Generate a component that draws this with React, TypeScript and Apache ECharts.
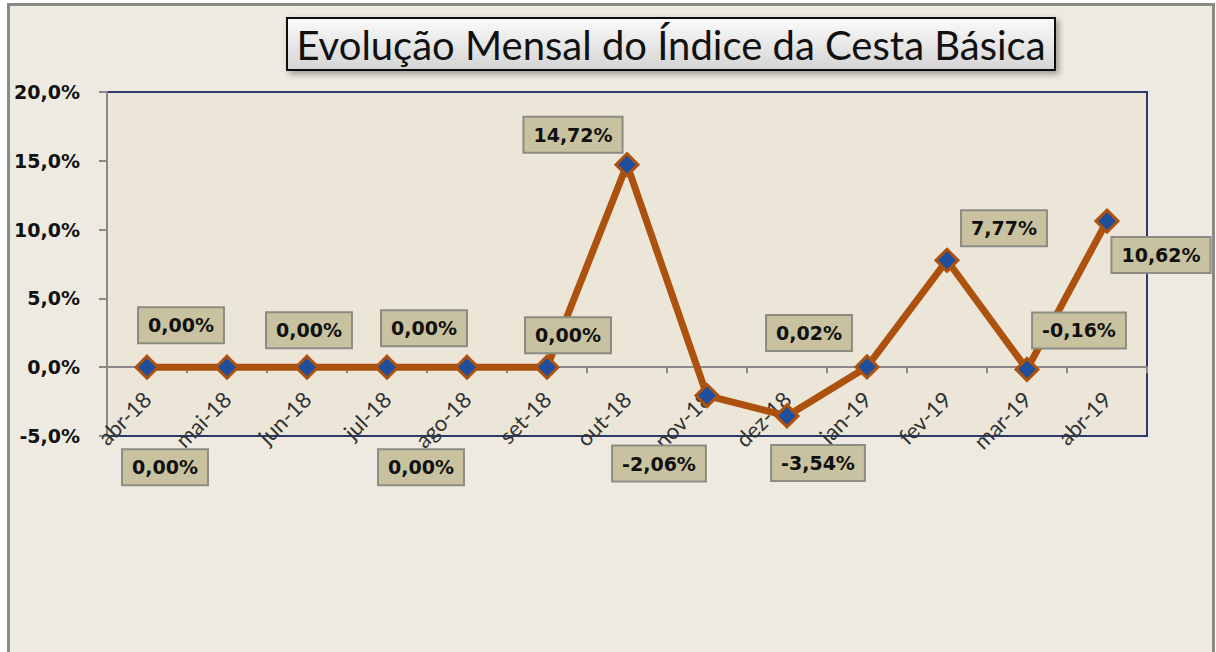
import React, { useEffect, useRef } from "react";
import * as echarts from "echarts";

const categories = [
  "abr-18", "mai-18", "jun-18", "jul-18", "ago-18", "set-18", "out-18",
  "nov-18", "dez-18", "jan-19", "fev-19", "mar-19", "abr-19",
];
const values = [0, 0, 0, 0, 0, 0, 14.72, -2.06, -3.54, 0.02, 7.77, -0.16, 10.62];
const yTicks = [-5, 0, 5, 10, 15, 20];
const titleText = "Evolução Mensal do Índice da Cesta Básica";

export default function App() {
  const ref = useRef<HTMLDivElement>(null);
  useEffect(() => {
    if (!ref.current) return;
    const chart = echarts.init(ref.current, undefined, { renderer: "svg" });
    // manual label placement (dx, dy from the point), as in the original chart
    const labelOffsets: number[][] = [
      [18, 100], [-46, -42], [2, -37], [37, -39], [-46, 100], [21, -32],
      [-54, -30], [-48, 68], [31, 47], [-58, -34], [57, -32], [52, -39], [54, 34],
    ];
    const lineColor = "#AD520E";
    const plotTop = 92;
    const plotHeight = 344;
    const yMin = yTicks[0];
    const yMax = yTicks[yTicks.length - 1];
    // move the category axis (line, ticks and labels) up to the zero value
    const zeroOffset = -plotHeight * (0 - yMin) / (yMax - yMin);
    chart.setOption({
      animation: false,
      backgroundColor: "#ffffff",
      graphic: [
        {
          type: "rect",
          z: -10,
          silent: true,
          shape: { x: 8.5, y: 4.5, width: 1205, height: 660 },
          style: { fill: "#EEEAE1", stroke: "#8A8A86", lineWidth: 3 },
        },
        {
          type: "group",
          z: 100,
          children: [
            {
              type: "rect",
              shape: { x: 287, y: 18, width: 768, height: 52 },
              style: {
                fill: new echarts.graphic.LinearGradient(0, 0, 0, 1, [
                  { offset: 0, color: "#FBFBFB" },
                  { offset: 1, color: "#D4D4D4" },
                ]),
                stroke: "#111111",
                lineWidth: 2,
                shadowBlur: 6,
                shadowOffsetX: 3,
                shadowOffsetY: 3,
                shadowColor: "rgba(0,0,0,0.35)",
              },
            },
            {
              type: "text",
              x: 671,
              y: 45,
              style: {
                text: titleText,
                font: "40px Lato",
                fill: "#111111",
                align: "center",
                verticalAlign: "middle",
              },
            },
          ],
        },
      ],
      grid: {
        left: 107,
        top: plotTop,
        width: 1040,
        height: plotHeight,
        show: true,
        backgroundColor: "#ECE6D8",
        borderColor: "#2B3A67",
        borderWidth: 2,
      },
      xAxis: {
        type: "category",
        data: categories,
        boundaryGap: true,
        offset: zeroOffset,
        axisLine: { onZero: false, lineStyle: { color: "#8A8A8A", width: 2 } },
        axisTick: { show: true, length: 6, lineStyle: { color: "#8A8A8A", width: 2 } },
        axisLabel: {
          rotate: 45,
          margin: 28,
          fontFamily: "Lato",
          fontSize: 22,
          color: "#333333",
        },
        splitLine: { show: false },
      },
      yAxis: {
        type: "value",
        min: yMin,
        max: yMax,
        interval: 5,
        axisLine: { show: true, lineStyle: { color: "#8A8A8A", width: 2 } },
        axisTick: { show: true, length: 8, lineStyle: { color: "#8A8A8A", width: 2 } },
        axisLabel: {
          margin: 27,
          fontFamily: "DejaVu Sans",
          fontWeight: "bold",
          fontSize: 19,
          color: "#111111",
          formatter: (v: number) => v.toFixed(1).replace(".", ",") + "%",
        },
        splitLine: { show: false },
      },
      series: [
        {
          type: "line",
          data: values.map((v, i) => ({
            value: v,
            label: { offset: labelOffsets[i] },
          })),
          lineStyle: { color: lineColor, width: 7 },
          symbol: "diamond",
          symbolSize: 22,
          itemStyle: { color: "#1F4E9C", borderColor: lineColor, borderWidth: 3 },
          z: 5,
          label: {
            show: true,
            position: "inside",
            formatter: (p: any) => p.value.toFixed(2).replace(".", ",") + "%",
            fontFamily: "DejaVu Sans",
            fontWeight: "bold",
            fontSize: 19,
            color: "#111111",
            backgroundColor: "#C8C2A0",
            borderColor: "#8C8C84",
            borderWidth: 2,
            padding: [8, 9, 7, 9],
          },
        },
      ],
    });
    return () => chart.dispose();
  }, []);
  return (
    <div
      ref={ref}
      style={{ position: "fixed", left: 0, top: 0, width: 1216, height: 652 }}
    />
  );
}
